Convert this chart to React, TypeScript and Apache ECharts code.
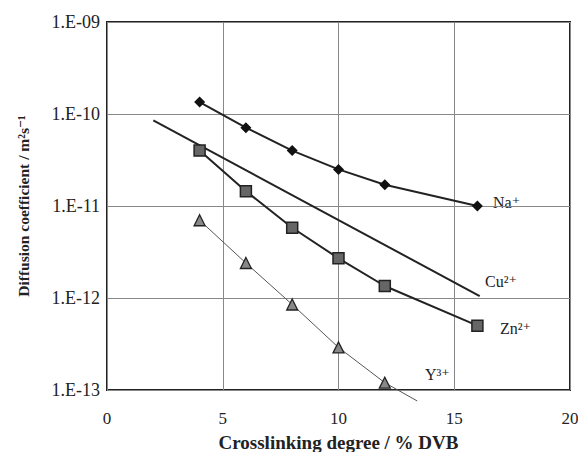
import React, { useEffect, useRef } from "react";
import * as echarts from "echarts";

const naX = [4, 6, 8, 10, 12, 16];
const naY = [1.35e-10, 7.1e-11, 4.0e-11, 2.5e-11, 1.7e-11, 1.0e-11];
const znX = [4, 6, 8, 10, 12, 16];
const znY = [4.0e-11, 1.45e-11, 5.8e-12, 2.7e-12, 1.35e-12, 5.0e-13];
const cuX = [2, 16.1];
const cuY = [8.5e-11, 1.05e-12];
const yX = [4, 6, 8, 10, 12];
const yY = [7.0e-12, 2.4e-12, 8.5e-13, 2.9e-13, 1.2e-13];
const yTailX = [12, 13.4];
const yTailY = [1.2e-13, 7.6e-14];

const pairs = (xs: number[], ys: number[]) => xs.map((x, i) => [x, ys[i]]);

const FONT = "'Liberation Serif', 'DejaVu Serif', serif";

export default function App() {
  const ref = useRef<HTMLDivElement>(null);
  useEffect(() => {
    const chart = echarts.init(ref.current!, null, { renderer: "svg" });
    const labelStyle = (text: string, x: number, y: number) => ({
      type: "text",
      x,
      y,
      style: { text, fontFamily: FONT, fontSize: 16, fill: "#222" },
    });
    chart.setOption({
      animation: false,
      backgroundColor: "#fff",
      grid: {
        left: 107,
        right: 8,
        top: 22,
        bottom: 62,
        outerBoundsMode: "none",
        containLabel: false,
        show: true,
        borderColor: "#222",
        borderWidth: 2,
        backgroundColor: "transparent",
      },
      xAxis: {
        type: "value",
        min: 0,
        max: 20,
        interval: 5,
        name: "Crosslinking degree / % DVB",
        nameLocation: "middle",
        nameGap: 43,
        nameTextStyle: { fontFamily: FONT, fontSize: 19, fontWeight: "bold", color: "#222" },
        axisLine: { show: false },
        axisTick: { show: false },
        axisLabel: { fontFamily: FONT, fontSize: 17, color: "#222", margin: 20 },
        splitLine: { show: true, lineStyle: { color: "#888", width: 1 } },
      },
      yAxis: {
        type: "log",
        logBase: 10,
        min: 1e-13,
        max: 1e-9,
        name: "Diffusion coefficient / m²s⁻¹",
        nameLocation: "middle",
        nameGap: 76,
        nameTextStyle: { fontFamily: FONT, fontSize: 15.5, fontWeight: "bold", color: "#222" },
        axisLine: { show: false },
        axisTick: { show: false },
        axisLabel: {
          fontFamily: FONT,
          fontSize: 18,
          color: "#222",
          margin: 7,
          formatter: (v: number) => {
            const e = Math.round(-Math.log10(v));
            return "1.E-" + (e < 10 ? "0" + e : String(e));
          },
        },
        splitLine: { show: true, lineStyle: { color: "#888", width: 1 } },
        minorSplitLine: { show: false },
      },
      series: [
        {
          type: "line",
          name: "Na",
          data: pairs(naX, naY),
          symbol: "diamond",
          symbolSize: 11,
          itemStyle: { color: "#111" },
          lineStyle: { color: "#222", width: 2 },
        },
        {
          type: "line",
          name: "Cu",
          data: pairs(cuX, cuY),
          showSymbol: false,
          symbol: "none",
          lineStyle: { color: "#222", width: 2 },
        },
        {
          type: "line",
          name: "Zn",
          data: pairs(znX, znY),
          symbol: "rect",
          symbolSize: 11,
          itemStyle: { color: "#666", borderColor: "#222", borderWidth: 1.5 },
          lineStyle: { color: "#222", width: 2 },
          z: 3,
        },
        {
          type: "line",
          name: "Ytail",
          data: pairs(yTailX, yTailY),
          symbol: "none",
          clip: false,
          lineStyle: { color: "#555", width: 1 },
        },
        {
          type: "line",
          name: "Y",
          data: pairs(yX, yY),
          symbol: "triangle",
          symbolSize: 11,
          itemStyle: { color: "#888", borderColor: "#222", borderWidth: 1.3 },
          lineStyle: { color: "#555", width: 1 },
        },
      ],
      graphic: [
        labelStyle("Na⁺", 493, 194),
        labelStyle("Cu²⁺", 485, 273),
        labelStyle("Zn²⁺", 500, 320),
        labelStyle("Y³⁺", 425, 366),
      ],
    });
    return () => chart.dispose();
  }, []);
  return (
    <div
      ref={ref}
      style={{ position: "fixed", left: 0, top: 0, width: 578, height: 452 }}
    />
  );
}
